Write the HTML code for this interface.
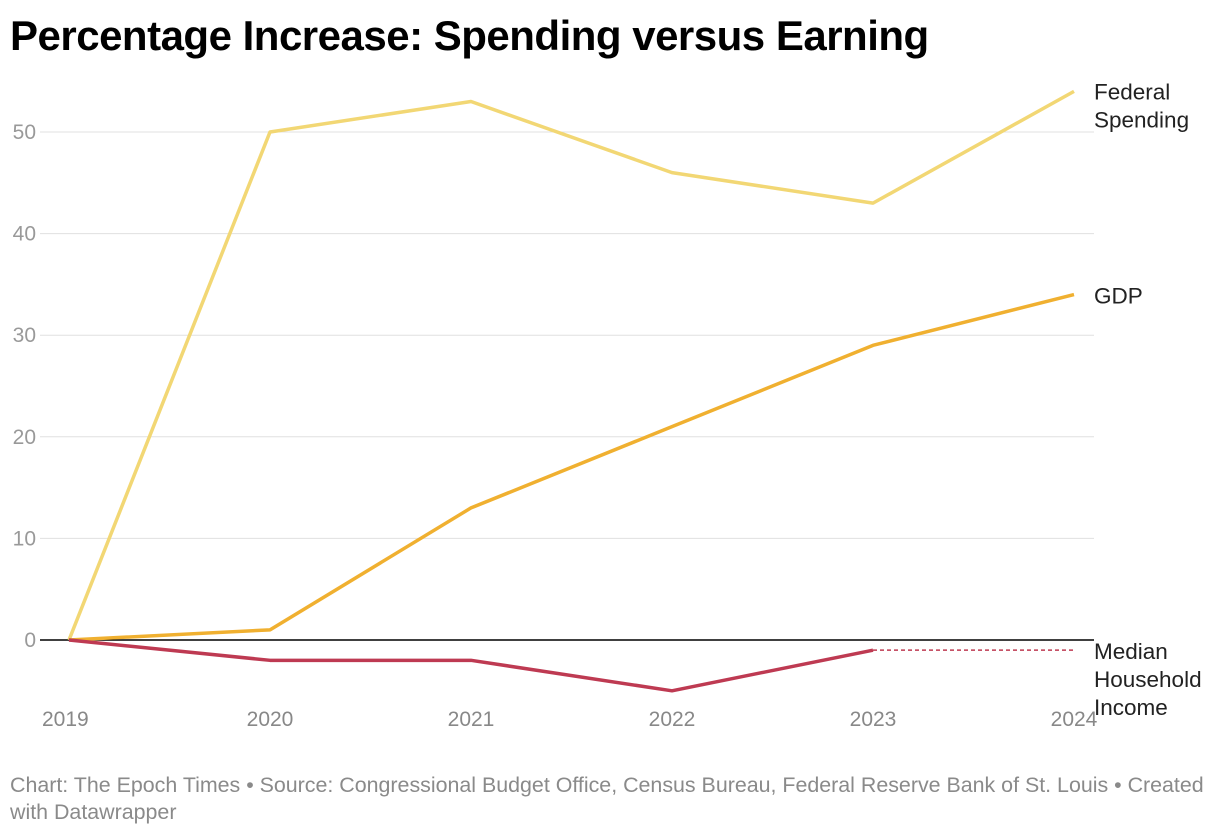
<!DOCTYPE html>
<html><head><meta charset="utf-8"><style>
body{margin:0;background:#fff;font-family:"Liberation Sans",sans-serif;}
svg{display:block}
</style></head><body>
<svg width="1220" height="834" xmlns="http://www.w3.org/2000/svg">
<text x="10" y="50" font-size="42" font-weight="bold" fill="#000" style="letter-spacing:-0.5px">Percentage Increase: Spending versus Earning</text>
<g id="grid"></g><g id="series"></g><g id="labels"></g>
<text x="10" y="792" font-size="21.4" fill="#8a8a8a">Chart: The Epoch Times • Source: Congressional Budget Office, Census Bureau, Federal Reserve Bank of St. Louis • Created</text>
<text x="10" y="819" font-size="21.4" fill="#8a8a8a">with Datawrapper</text>
</svg>
<script>
const years=["2019","2020","2021","2022","2023","2024"];
const yTicks=[0,10,20,30,40,50];
const federal=[0,50,53,46,43,54];
const gdp=[0,1,13,21,29,34];
const median=[0,-2,-2,-5,-1];
const medianProjected=[-1,-1];
const NS="http://www.w3.org/2000/svg";
const xs=i=>69+i*201;
const ys=v=>640-v*10.16;
function mk(t,a,p){const e=document.createElementNS(NS,t);for(const k in a)e.setAttribute(k,a[k]);p.appendChild(e);return e;}
const grid=document.getElementById('grid'),ser=document.getElementById('series'),lab=document.getElementById('labels');
yTicks.forEach(v=>{
 const l=mk('line',{x1:40,x2:1094,y1:ys(v),y2:ys(v),stroke:v===0?'#000':'#e0e0e0','stroke-width':v===0?1.5:1},grid);
 
 
 const t=mk('text',{x:36,y:ys(v)+7,'font-size':21,fill:'#999','text-anchor':'end'},grid);
 t.textContent=v;
 
 
});
years.forEach((y,i)=>{
 const t=mk('text',{x:i===0?42:xs(i),y:726,'font-size':21,fill:'#888','text-anchor':i===0?'start':'middle'},grid);
 t.textContent=y;
 
 
});
function line(data,color,name,off,dash){
 const pts=data.map((v,i)=>xs(i+off)+','+ys(v)).join(' ');
 const p=mk('polyline',{points:pts,fill:'none',stroke:color,'stroke-width':dash?1.5:3.5,'stroke-linejoin':'round'},ser);
 if(dash)p.setAttribute('stroke-dasharray','4,3');
 
 
}
line(federal,'#f2d774','line-federal-spending',0);
line(gdp,'#f0b030','line-gdp',0);
line(median,'#be3a52','line-median-household-income',0);
line(medianProjected,'#be3a52','line-median-income-dashed',4,true);
function label(lines,y,name){
 lines.forEach((s,j)=>{const t=mk('text',{x:1094,y:y+j*28,'font-size':22.5,fill:'#222'},lab);t.textContent=s;
 
 });
}
label(['Federal','Spending'],ys(federal[5])+8,'label-federal-spending');
label(['GDP'],ys(gdp[5])+9,'label-gdp');
label(['Median','Household','Income'],ys(medianProjected[1])+9,'label-median-income');
</script>
</body></html>
